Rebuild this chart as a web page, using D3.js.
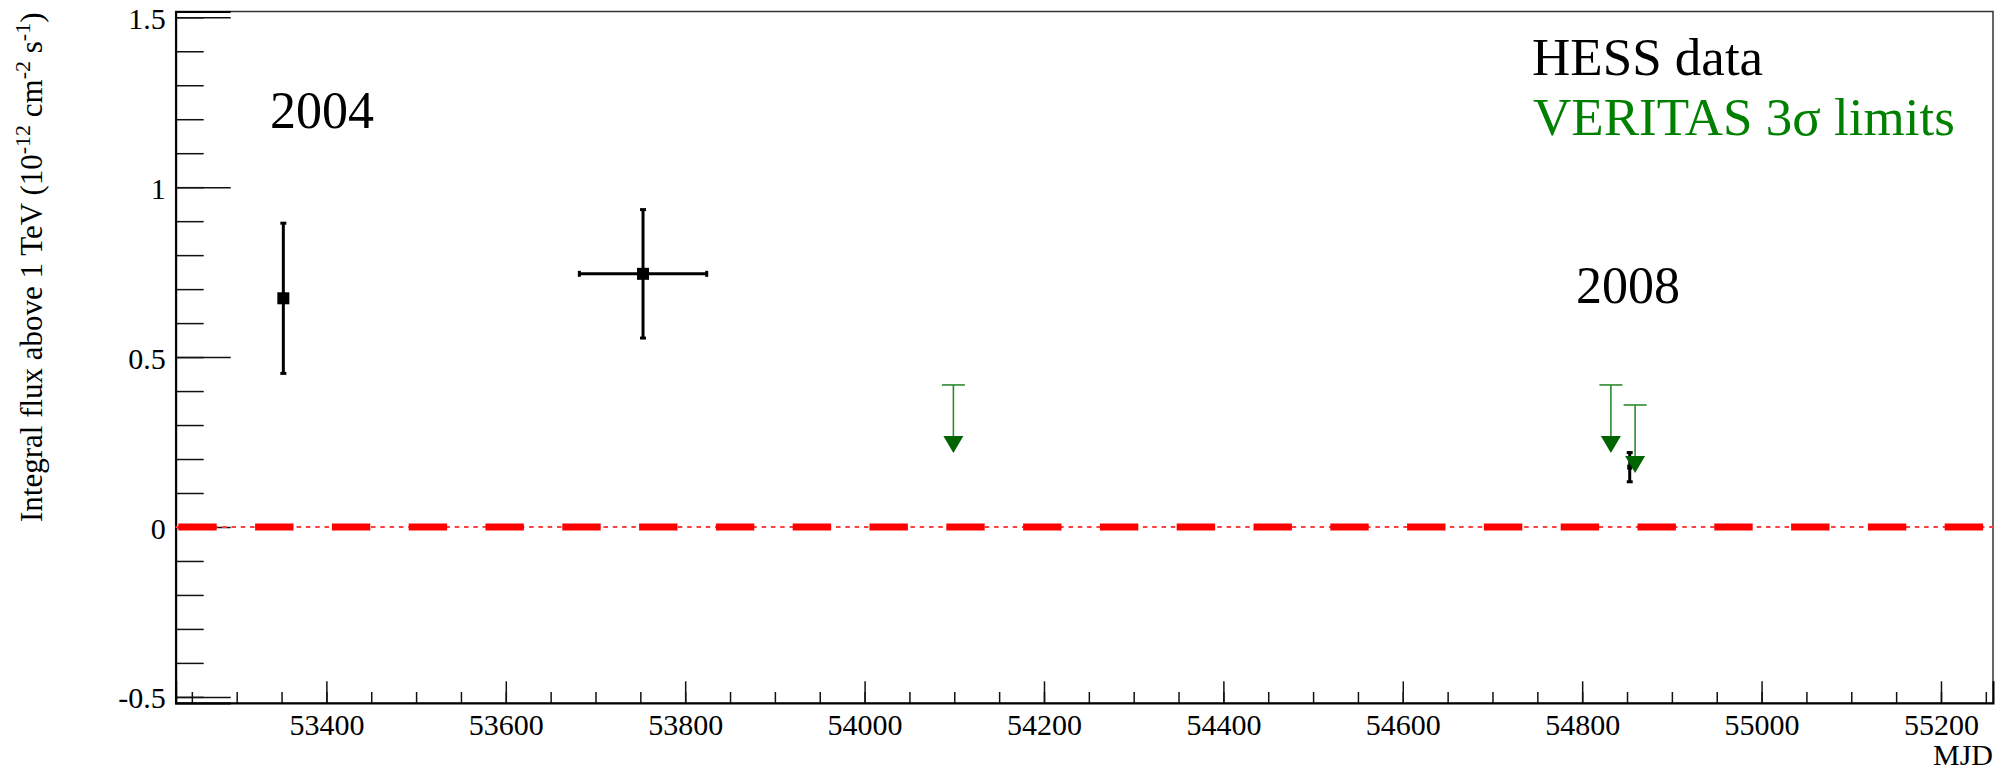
<!DOCTYPE html>
<meta charset="utf-8">
<style>
body { margin: 0; background: #fff; }
svg text { font-family: "Liberation Serif", "Times New Roman", serif; }
</style>
<body>
<div id="chart"></div>
</body>
<script src="https://d3js.org/d3.v7.min.js"></script>
<script>

// HESS points (MJD, flux, errors)
var hessMjd     = [53352, 53753, 54853];
var hessMjdErr  = [0, 71, 0];
var hessFlux    = [0.673, 0.745, 0.176];
var hessFluxErr = [0.221, 0.189, 0.043];

// VERITAS 3 sigma upper limits
var veritasMjd   = [54099, 54832, 54859];
var veritasLimit = [0.418, 0.418, 0.359];

// axis ticks
var xMajorTicks = [53400, 53600, 53800, 54000, 54200, 54400, 54600, 54800, 55000, 55200];
var xMinorTicks = d3.range(53250, 55251, 50);
var yMajorTicks = [-0.5, 0, 0.5, 1, 1.5];
var yMinorTicks = d3.range(-5, 16).map(function(i) { return i / 10; });

// year annotations
var yearText = ["2004", "2008"];
var yearMjd  = [53337, 54793];
var yearFlux = [1.174, 0.66];

var width = 2012, height = 771;
var margin = {top: 11.5, right: 19, bottom: 68, left: 175.7};

var x = d3.scaleLinear([53232, 55258], [margin.left, width - margin.right]);
var y = d3.scaleLinear([-0.518, 1.517], [height - margin.bottom, margin.top]);

var svg = d3.select("#chart").append("svg")
    .attr("width", width)
    .attr("height", height);

var hess = hessMjd.map(function(d, i) {
  return {mjd: d, dx: hessMjdErr[i], flux: hessFlux[i], dy: hessFluxErr[i], size: i == 2 ? 5 : 12};
});
var veritas = veritasMjd.map(function(d, i) {
  return {mjd: d, lim: veritasLimit[i]};
});

// frame
svg.append("rect")
    .attr("x", x.range()[0])
    .attr("y", y.range()[1])
    .attr("width", x.range()[1] - x.range()[0])
    .attr("height", y.range()[0] - y.range()[1])
    .attr("fill", "none")
    .attr("stroke", "#333")
    .attr("stroke-width", 1.5);

// y axis
var yAxisMinor = svg.append("g")
    .attr("transform", "translate(" + x.range()[0] + ",0)")
    .call(d3.axisLeft(y).tickValues(yMinorTicks).tickSize(-28).tickFormat(""));
yAxisMinor.select(".domain").remove();

var yAxis = svg.append("g")
    .attr("transform", "translate(" + x.range()[0] + ",0)")
    .call(d3.axisLeft(y).tickValues(yMajorTicks).tickSize(-55).tickPadding(10)
      .tickFormat(function(d) { return String(d); }));
yAxis.select(".domain").attr("stroke-width", 2);
yAxis.selectAll("text").attr("font-size", 30).attr("dy", "0.37em")
    .style("font-family", "Liberation Serif");

// x axis
var xAxisMinor = svg.append("g")
    .attr("transform", "translate(0," + y.range()[0] + ")")
    .call(d3.axisBottom(x).tickValues(xMinorTicks).tickSize(-11).tickFormat(""));
xAxisMinor.select(".domain").remove();

var xAxis = svg.append("g")
    .attr("transform", "translate(0," + y.range()[0] + ")")
    .call(d3.axisBottom(x).tickValues(xMajorTicks).tickSize(-21.7).tickPadding(10.7)
      .tickFormat(function(d) { return String(d); }));
xAxis.select(".domain").attr("stroke-width", 2);
xAxis.selectAll("text").attr("font-size", 30)
    .style("font-family", "Liberation Serif");

svg.selectAll(".tick line").attr("stroke", "#111").attr("stroke-width", 1.5);

// axis titles
svg.append("text")
    .attr("x", x.range()[1])
    .attr("y", 765)
    .attr("text-anchor", "end")
    .attr("font-size", 30)
    .text("MJD");

var yTitle = svg.append("text")
    .attr("transform", "translate(42," + (margin.top + 1) + ") rotate(-90)")
    .attr("text-anchor", "end")
    .attr("font-size", 31);
yTitle.append("tspan").text("Integral flux above 1 TeV (10");
yTitle.append("tspan").attr("font-size", 22).attr("dy", -12).text("-12");
yTitle.append("tspan").attr("dy", 12).text(" cm");
yTitle.append("tspan").attr("font-size", 22).attr("dy", -12).text("-2");
yTitle.append("tspan").attr("dy", 12).text(" s");
yTitle.append("tspan").attr("font-size", 22).attr("dy", -12).text("-1");
yTitle.append("tspan").attr("dy", 12).text(")");

// zero line: thin dotted + thick dashed
svg.append("line")
    .attr("x1", x.range()[0]).attr("x2", x.range()[1])
    .attr("y1", y(0)).attr("y2", y(0))
    .attr("stroke", "#ff4040")
    .attr("stroke-width", 1.8)
    .attr("stroke-dasharray", "4.5,4.8");

svg.append("line")
    .attr("x1", x.range()[0]).attr("x2", x.range()[1])
    .attr("y1", y(0)).attr("y2", y(0))
    .attr("stroke", "#ff0000")
    .attr("stroke-width", 7)
    .attr("stroke-dasharray", "38.4,38.4")
    .attr("stroke-dashoffset", 74.2);

// HESS error bars
var hg = svg.append("g").attr("stroke", "#000").attr("stroke-width", 3);

hg.selectAll(".vbar").data(hess).join("line")
    .attr("x1", d => x(d.mjd)).attr("x2", d => x(d.mjd))
    .attr("y1", d => y(d.flux + d.dy)).attr("y2", d => y(d.flux - d.dy));

hg.selectAll(".hbar").data(hess.filter(d => d.dx > 0)).join("line")
    .attr("x1", d => x(d.mjd - d.dx)).attr("x2", d => x(d.mjd + d.dx))
    .attr("y1", d => y(d.flux)).attr("y2", d => y(d.flux));

// caps
var caps = [];
hess.forEach(function(d) {
  caps.push({x1: x(d.mjd) - 3, x2: x(d.mjd) + 3, y1: y(d.flux + d.dy), y2: y(d.flux + d.dy)});
  caps.push({x1: x(d.mjd) - 3, x2: x(d.mjd) + 3, y1: y(d.flux - d.dy), y2: y(d.flux - d.dy)});
  if (d.dx > 0) {
    caps.push({x1: x(d.mjd - d.dx), x2: x(d.mjd - d.dx), y1: y(d.flux) - 3, y2: y(d.flux) + 3});
    caps.push({x1: x(d.mjd + d.dx), x2: x(d.mjd + d.dx), y1: y(d.flux) - 3, y2: y(d.flux) + 3});
  }
});
hg.selectAll(".cap").data(caps).join("line")
    .attr("x1", d => d.x1).attr("x2", d => d.x2)
    .attr("y1", d => d.y1).attr("y2", d => d.y2);

svg.selectAll(".hessMarker").data(hess).join("rect")
    .attr("x", d => x(d.mjd) - d.size / 2)
    .attr("y", d => y(d.flux) - d.size / 2)
    .attr("width", d => d.size)
    .attr("height", d => d.size)
    .attr("fill", "#000");

// VERITAS upper limit arrows
var arrowLen = 68, triW = 20, triH = 17;
var vg = svg.append("g");

vg.selectAll(".ulCap").data(veritas).join("line")
    .attr("x1", d => x(d.mjd) - 11.5).attr("x2", d => x(d.mjd) + 11.5)
    .attr("y1", d => y(d.lim)).attr("y2", d => y(d.lim))
    .attr("stroke", "#2e8b2e").attr("stroke-width", 1.6);

vg.selectAll(".ulLine").data(veritas).join("line")
    .attr("x1", d => x(d.mjd)).attr("x2", d => x(d.mjd))
    .attr("y1", d => y(d.lim)).attr("y2", d => y(d.lim) + arrowLen - triH)
    .attr("stroke", "#2e8b2e").attr("stroke-width", 1.6);

vg.selectAll(".ulHead").data(veritas).join("path")
    .attr("d", function(d) {
      var cx = x(d.mjd), tip = y(d.lim) + arrowLen;
      return "M" + (cx - triW / 2) + "," + (tip - triH) + "L" + (cx + triW / 2) + "," + (tip - triH) + "L" + cx + "," + tip + "Z";
    })
    .attr("fill", "#006400");

// year labels
svg.selectAll(".year").data(yearText).join("text")
    .attr("x", (d, i) => x(yearMjd[i]))
    .attr("y", (d, i) => y(yearFlux[i]))
    .attr("font-size", 52)
    .attr("fill", "#000")
    .text(d => d);

// legend
svg.append("text")
    .attr("x", 1532).attr("y", 75)
    .attr("font-size", 53).attr("fill", "#000")
    .text("HESS data");
svg.append("text")
    .attr("x", 1533).attr("y", 135)
    .attr("font-size", 53).attr("fill", "#008000")
    .text("VERITAS 3σ limits");

</script>
